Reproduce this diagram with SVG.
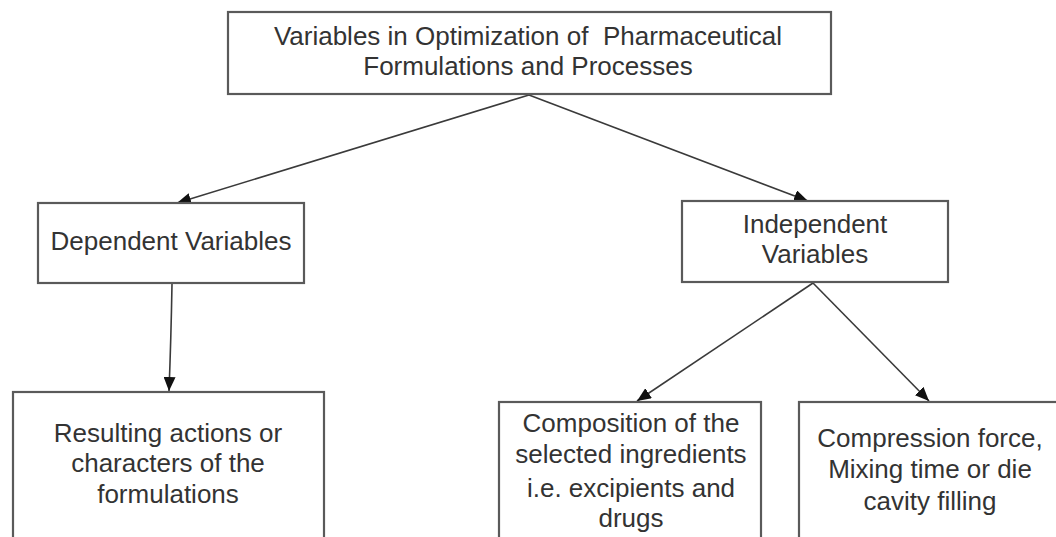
<svg xmlns="http://www.w3.org/2000/svg" width="1056" height="537" viewBox="0 0 1056 537">
  <style>
    .box { fill: #ffffff; stroke: #5a5a5a; stroke-width: 2.2; }
    .lbl { font-family: "Liberation Sans", Arial, sans-serif; font-size: 26px; fill: #333333; text-anchor: middle; }
    .edge { fill: none; stroke: #3a3a3a; stroke-width: 1.6; marker-end: url(#arrow); }
  </style>
  <defs>
    <marker id="arrow" markerUnits="userSpaceOnUse" viewBox="0 0 14 12" refX="14" refY="6" markerWidth="14" markerHeight="12" orient="auto">
      <path d="M0,0 L14,6 L0,12 z" fill="#111111"/>
    </marker>
  </defs>
  <rect width="1056" height="537" fill="#ffffff"/>

  <g id="connectors">
    <path class="edge" d="M529,95 L177,203"/>
    <path class="edge" d="M529,95 L808,201"/>
    <path class="edge" d="M172,284 Q171,340 169,391"/>
    <path class="edge" d="M813,283 L637,401"/>
    <path class="edge" d="M813,283 L929,401"/>
  </g>

  <g id="node-root">
    <rect class="box" x="228" y="12" width="603" height="82"/>
    <text class="lbl" x="528" y="45" xml:space="preserve">Variables in Optimization of  Pharmaceutical</text>
    <text class="lbl" x="528" y="75">Formulations and Processes</text>
  </g>

  <g id="node-dependent">
    <rect class="box" x="38" y="203" width="266" height="80"/>
    <text class="lbl" x="171" y="250">Dependent Variables</text>
  </g>

  <g id="node-independent">
    <rect class="box" x="682" y="201" width="266" height="81"/>
    <text class="lbl" x="815" y="233">Independent</text>
    <text class="lbl" x="815" y="263">Variables</text>
  </g>

  <g id="node-resulting">
    <rect class="box" x="13" y="392" width="311" height="160"/>
    <text class="lbl" x="168" y="442">Resulting actions or</text>
    <text class="lbl" x="168" y="472">characters of the</text>
    <text class="lbl" x="168" y="503">formulations</text>
  </g>

  <g id="node-composition">
    <rect class="box" x="499" y="402" width="262" height="150"/>
    <text class="lbl" x="631" y="432">Composition of the</text>
    <text class="lbl" x="631" y="463">selected ingredients</text>
    <text class="lbl" x="631" y="497">i.e. excipients and</text>
    <text class="lbl" x="631" y="527">drugs</text>
  </g>

  <g id="node-compression">
    <rect class="box" x="799" y="402" width="264" height="150"/>
    <text class="lbl" x="930" y="447">Compression force,</text>
    <text class="lbl" x="930" y="478">Mixing time or die</text>
    <text class="lbl" x="930" y="510">cavity filling</text>
  </g>
</svg>
